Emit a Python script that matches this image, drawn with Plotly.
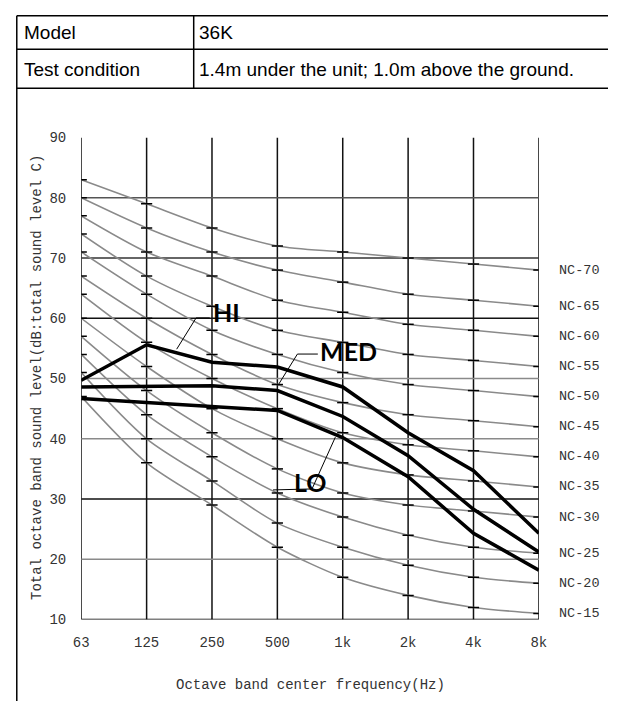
import plotly.graph_objects as go

# ---------------- data ----------------
freqs = ['63', '125', '250', '500', '1k', '2k', '4k', '8k']
y_ticks = [10, 20, 30, 40, 50, 60, 70, 80, 90]

nc_names = ['NC-15', 'NC-20', 'NC-25', 'NC-30', 'NC-35', 'NC-40',
            'NC-45', 'NC-50', 'NC-55', 'NC-60', 'NC-65', 'NC-70']
nc15 = [47, 36, 29, 22, 17, 14, 12, 11]
nc20 = [51, 40, 33, 26, 22, 19, 17, 16]
nc25 = [54, 44, 37, 31, 27, 24, 22, 21]
nc30 = [57, 48, 41, 35, 31, 29, 28, 27]
nc35 = [60, 52, 45, 40, 36, 34, 33, 32]
nc40 = [64, 56, 50, 45, 41, 39, 38, 37]
nc45 = [67, 60, 54, 49, 46, 44, 43, 42]
nc50 = [71, 64, 58, 54, 51, 49, 48, 47]
nc55 = [74, 67, 62, 58, 56, 54, 53, 52]
nc60 = [77, 71, 67, 63, 61, 59, 58, 57]
nc65 = [80, 75, 71, 68, 66, 64, 63, 62]
nc70 = [83, 79, 75, 72, 71, 70, 69, 68]
nc_curves = [nc15, nc20, nc25, nc30, nc35, nc40, nc45, nc50, nc55, nc60, nc65, nc70]

hi = [49.7, 55.6, 52.7, 51.9, 48.6, 41.0, 34.7, 24.3]
med = [48.6, 48.7, 48.8, 48.0, 43.7, 37.2, 28.3, 21.2]
lo = [46.7, 46.0, 45.4, 44.7, 40.2, 33.7, 24.3, 18.2]

# page is 624x718; the browser body keeps an 8px margin
OFF = 8
FW, FH = 624 - 2 * OFF, 718 - 2 * OFF
MONO = 'Liberation Mono'
TXT = '#333'

def px(x):
    return (x - OFF) / FW

def py(y):
    return 1 - (y - OFF) / FH

fig = go.Figure()

# NC curves with tick marks on the octave lines
for name, vals in zip(nc_names, nc_curves):
    fig.add_trace(go.Scatter(
        x=freqs, y=vals, mode='lines+markers', name=name,
        line=dict(color='#8a8a8a', width=1.6, shape='spline', smoothing=0.8),
        marker=dict(symbol='line-ew', size=8, color='black',
                    line=dict(width=1.5, color='black')),
        showlegend=False, hoverinfo='skip'))

for name, vals in [('HI', hi), ('MED', med), ('LO', lo)]:
    fig.add_trace(go.Scatter(
        x=freqs, y=vals, mode='lines', name=name,
        line=dict(color='black', width=3.5),
        showlegend=False))

shapes = []
# vertical octave lines (category index positions)
for i in range(len(freqs)):
    shapes.append(dict(type='line', xref='x', yref='y', x0=i, x1=i, y0=10, y1=90,
                       line=dict(color='#111', width=1.5), layer='between'))
# horizontal grid lines
hcolors = {20: '#8a8a8a', 30: '#111', 40: '#8a8a8a', 50: '#8a8a8a',
           60: '#111', 70: '#333', 80: '#555'}
for v, c in hcolors.items():
    shapes.append(dict(type='line', xref='x', yref='y', x0=0, x1=7, y0=v, y1=v,
                       line=dict(color=c, width=1.6), layer='between'))
shapes.append(dict(type='line', xref='x', yref='y', x0=0, x1=7, y0=10, y1=10,
                   line=dict(color='black', width=1.6), layer='between'))

# leader lines for the labels
def path(pts):
    d = 'M ' + ' L '.join(f'{x},{y}' for x, y in pts)
    return dict(type='path', xref='x', yref='y', path=d,
                line=dict(color='black', width=1))
shapes.append(path([(1.46, 54.87), (1.757, 60.06), (1.966, 60.06)]))
shapes.append(path([(3.009, 48.86), (3.307, 54.06), (3.619, 54.06)]))
shapes.append(path([(2.934, 31.51), (3.53, 31.67), (3.887, 40.27)]))

# page table borders
tbl = dict(color='black', width=1.5)
for yy in [8.8, 43, 83]:
    shapes.append(dict(type='line', xref='paper', yref='paper',
                       x0=px(8.8), x1=1, y0=py(yy), y1=py(yy), line=tbl))
shapes.append(dict(type='line', xref='paper', yref='paper',
                   x0=px(8.8), x1=px(8.8), y0=py(8.8), y1=0, line=tbl))
shapes.append(dict(type='line', xref='paper', yref='paper',
                   x0=px(190.5), x1=px(190.5), y0=py(8.8), y1=py(83), line=tbl))

ann = []
sans = dict(family='Liberation Sans', size=19, color='black')
ann.append(dict(x=px(14), y=py(26), xref='paper', yref='paper', text='Model',
                showarrow=False, xanchor='left', yanchor='middle', font=sans))
ann.append(dict(x=px(194), y=py(26), xref='paper', yref='paper', text='36K',
                showarrow=False, xanchor='left', yanchor='middle', font=sans))
ann.append(dict(x=px(14), y=py(64), xref='paper', yref='paper', text='Test condition',
                showarrow=False, xanchor='left', yanchor='middle', font=sans))
ann.append(dict(x=px(194), y=py(64), xref='paper', yref='paper',
                text='1.4m under the unit; 1.0m above the ground.',
                showarrow=False, xanchor='left', yanchor='middle', font=sans))

# NC labels at the right
for name, vals in zip(nc_names, nc_curves):
    ann.append(dict(x=7, y=vals[-1], xref='x', yref='y', text=name, showarrow=False,
                    xanchor='left', yanchor='middle', xshift=18,
                    font=dict(family=MONO, size=13.5, color=TXT)))

lbl = dict(family='Lato', size=25, color='black', weight='bold')
ann.append(dict(x=2.219, y=61.03, xref='x', yref='y', text='<b>HI</b>', showarrow=False, font=lbl))
ann.append(dict(x=4.081, y=54.54, xref='x', yref='y', text='<b>MED</b>', showarrow=False, font=lbl))
ann.append(dict(x=3.5, y=32.8, xref='x', yref='y', text='<b>LO</b>', showarrow=False, font=lbl))

# axis titles
ann.append(dict(x=px(29), y=py(379), xref='paper', yref='paper',
                text='Total octave band sound level(dB:total sound level C)',
                textangle=-90, showarrow=False, xanchor='center', yanchor='middle',
                font=dict(family=MONO, size=14, color=TXT)))
ann.append(dict(x=px(310), y=py(694), xref='paper', yref='paper',
                text='Octave band center frequency(Hz)',
                showarrow=False, xanchor='center', yanchor='middle',
                font=dict(family=MONO, size=14, color=TXT)))

fig.update_layout(
    width=FW, height=FH, margin=dict(l=0, r=0, t=0, b=0),
    paper_bgcolor='white', plot_bgcolor='white',
    shapes=shapes, annotations=ann,
    xaxis=dict(type='category', categoryorder='array', categoryarray=freqs,
               range=[0, 7], domain=[px(75), px(545)],
               showgrid=False, zeroline=False, showline=False, ticks='',
               tickfont=dict(family=MONO, size=14, color=TXT),
               ticklabelstandoff=12, fixedrange=True),
    yaxis=dict(range=[10, 90], domain=[py(626.6), py(133.4)],
               tickvals=y_ticks, showgrid=False, zeroline=False, showline=False,
               ticks='', tickfont=dict(family=MONO, size=14, color=TXT),
               ticklabelstandoff=14, fixedrange=True),
)

fig.write_html('out.html', config={'displayModeBar': False})
